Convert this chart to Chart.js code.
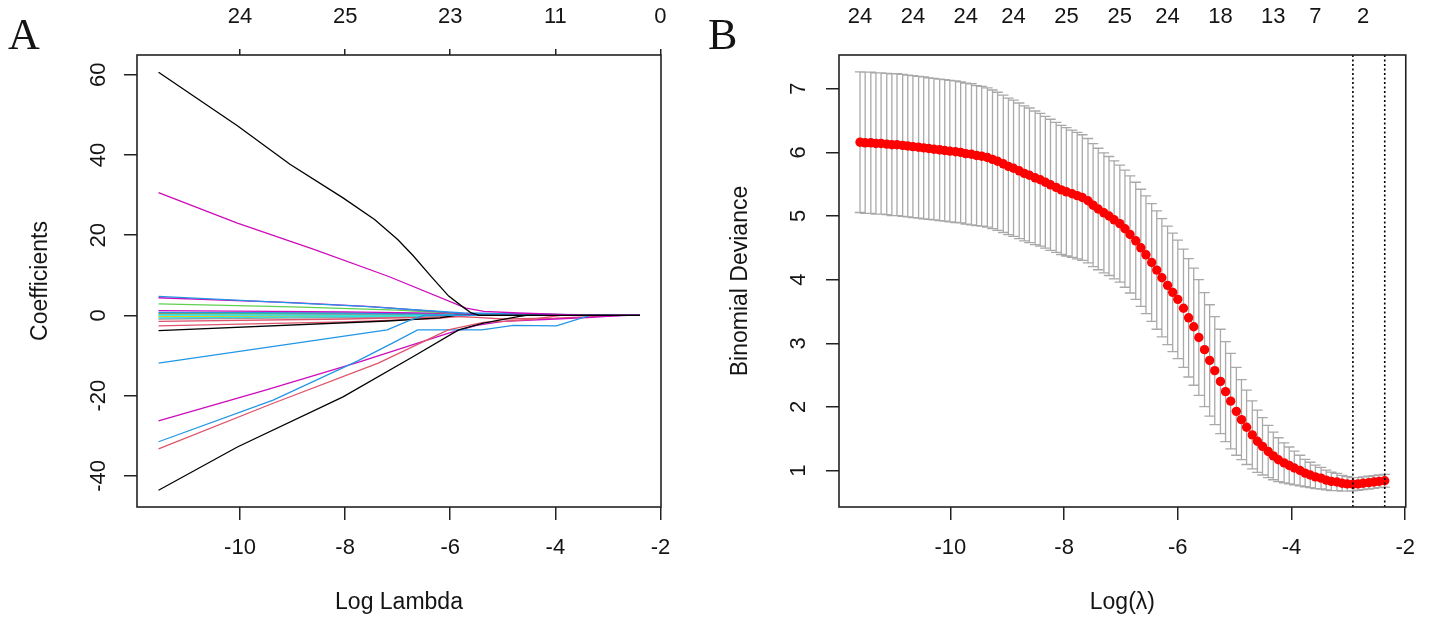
<!DOCTYPE html>
<html>
<head>
<meta charset="utf-8">
<script src="https://cdn.jsdelivr.net/npm/chart.js@4.4.1/dist/chart.umd.min.js"></script>
<style>
html,body{margin:0;padding:0;background:#fff;width:1430px;height:622px;overflow:hidden}
.panel{position:absolute;top:0}
</style>
</head>
<body>
<div class="panel" style="left:0;width:700px;height:622px"><canvas id="cA" width="700" height="622"></canvas></div>
<div class="panel" style="left:700px;width:730px;height:622px"><canvas id="cB" width="730" height="622"></canvas></div>
<script>
// ---------- Panel A: coefficient paths ----------
const coefXTicks = [-10, -8, -6, -4, -2];
const coefTopLabels = ['24', '25', '23', '11', '0'];
const coefYTicks = [-40, -20, 0, 20, 40, 60];

const path01 = [[-11.55,60.6],[-10.05,47.3],[-9.05,37.7],[-8.04,29.3],[-7.44,23.9],[-7.0,18.9],[-6.70,14.8],[-6.37,9.8],[-6.03,4.8],[-5.75,2.0],[-5.60,0.6],[-5.45,0],[-2.39,0]];
const path02 = [[-11.55,30.6],[-10.05,23.0],[-8.58,16.4],[-7.17,9.7],[-5.70,1.8],[-5.36,1.0],[-4.70,0.6],[-3.36,0],[-2.39,0]];
const path03 = [[-11.55,-43.6],[-10.05,-32.8],[-8.04,-20.3],[-6.71,-10.3],[-5.84,-3.6],[-5.37,-1.9],[-4.71,-0.3],[-4.55,0],[-2.39,0]];
const path04 = [[-11.55,-33.3],[-9.37,-21.9],[-7.37,-11.9],[-6.04,-3.6],[-5.37,-1.75],[-4.97,-1.5],[-4.4,-0.9],[-3.9,0],[-2.39,0]];
const path05 = [[-11.55,-31.5],[-9.37,-21.1],[-7.77,-11.4],[-7.10,-6.9],[-6.62,-3.6],[-5.40,-3.6],[-4.80,-2.5],[-3.98,-2.6],[-3.34,0],[-2.39,0]];
const path06 = [[-11.55,-26.3],[-9.5,-18.6],[-7.71,-11.5],[-6.03,-4.4],[-5.5,-2.5],[-5.0,-1.5],[-4.0,-0.9],[-3.3,-0.5],[-2.72,0],[-2.39,0]];
const path07 = [[-11.55,-11.9],[-7.2,-3.6],[-6.75,-1.1],[-6.5,0],[-2.39,0]];
const path08 = [[-11.55,-3.8],[-7.2,-1.4],[-6.2,-0.6],[-5.9,0],[-2.39,0]];
const path09 = [[-11.55,4.74],[-7.64,2.25],[-5.75,0.6],[-4.5,0.3],[-3.0,0.1],[-2.39,0]];
const path10 = [[-11.55,4.4],[-9.0,3.2],[-7.5,2.2],[-6.3,1.0],[-5.7,0.3],[-5.4,0],[-2.39,0]];
const path11 = [[-11.55,2.85],[-9.0,2.1],[-7.0,1.3],[-6.0,0.6],[-5.5,0],[-2.39,0]];
const path12 = [[-11.55,1.2],[-8.0,0.9],[-6.0,0.5],[-4.8,0.45],[-3.9,0.2],[-3.0,-0.2],[-2.6,0],[-2.39,0]];
const path13 = [[-11.55,0.75],[-8.0,0.6],[-6.0,0.3],[-5.2,0],[-2.39,0]];
const path14 = [[-11.55,0.1],[-8.0,0.05],[-6.0,0.0],[-2.39,0]];
const path15 = [[-11.55,-0.6],[-8.5,-0.35],[-6.5,-0.1],[-6.0,0],[-2.39,0]];
const path16 = [[-11.55,-1.5],[-8.0,-0.9],[-6.3,-0.4],[-5.6,0],[-2.39,0]];
const path17 = [[-11.55,-2.6],[-8.0,-1.6],[-6.3,-0.8],[-5.6,0],[-2.39,0]];
const path18 = [[-11.55,0.3],[-8.5,0.5],[-6.5,0.4],[-5.5,0.1],[-5.0,0],[-2.39,0]];
const path19 = [[-11.55,-0.3],[-7.5,-0.2],[-6.5,0],[-2.39,0]];
const path20 = [[-11.55,-0.9],[-7.0,-0.4],[-5.9,0],[-2.39,0]];
const path21 = [[-11.55,0.5],[-7.0,0.2],[-5.5,-0.5],[-5.0,-0.9],[-4.0,-0.7],[-3.3,-0.3],[-2.9,0],[-2.39,0]];
const path22 = [[-11.55,-0.2],[-9.0,-0.1],[-7.0,0.2],[-6.0,0.1],[-5.3,0],[-2.39,0]];
const pathColors = ['#000000','#CD0BBC','#000000','#DF536B','#2297E6','#CD0BBC','#2297E6','#000000',
  '#2297E6','#CD0BBC','#61D04F','#CD0BBC','#2297E6','#28E2E5','#28E2E5','#DF536B','#DF536B',
  '#61D04F','#F5C710','#9E9E9E','#DF536B','#28E2E5'];

// ---------- Panel B: cross-validation curve ----------
const logLambda = [
-11.59,-11.50,-11.40,-11.31,-11.22,-11.12,-11.03,-10.94,-10.84,-10.75,
-10.66,-10.56,-10.47,-10.38,-10.29,-10.19,-10.10,-10.01,-9.91,-9.82,
-9.73,-9.63,-9.54,-9.45,-9.35,-9.26,-9.17,-9.07,-8.98,-8.89,
-8.79,-8.70,-8.61,-8.51,-8.42,-8.33,-8.24,-8.14,-8.05,-7.96,
-7.86,-7.77,-7.68,-7.58,-7.49,-7.40,-7.30,-7.21,-7.12,-7.02,
-6.93,-6.84,-6.74,-6.65,-6.56,-6.46,-6.37,-6.28,-6.18,-6.09,
-6.00,-5.90,-5.81,-5.72,-5.63,-5.53,-5.44,-5.35,-5.25,-5.16,
-5.07,-4.97,-4.88,-4.79,-4.69,-4.60,-4.51,-4.41,-4.32,-4.23,
-4.13,-4.04,-3.95,-3.85,-3.76,-3.67,-3.58,-3.48,-3.39,-3.30,
-3.20,-3.11,-3.02,-2.92,-2.83,-2.74,-2.64,-2.55,-2.46,-2.36];
const cvMean = [
6.16,6.15,6.15,6.14,6.14,6.13,6.12,6.12,6.11,6.10,
6.09,6.08,6.07,6.06,6.05,6.04,6.03,6.02,6.01,6.00,
5.98,5.97,5.95,5.94,5.92,5.89,5.86,5.82,5.78,5.75,
5.71,5.67,5.64,5.60,5.57,5.53,5.49,5.45,5.41,5.38,
5.35,5.32,5.29,5.24,5.17,5.11,5.05,5.00,4.94,4.88,
4.80,4.71,4.61,4.50,4.39,4.27,4.15,4.03,3.91,3.80,
3.69,3.55,3.40,3.26,3.09,2.90,2.73,2.57,2.40,2.24,
2.09,1.93,1.80,1.68,1.56,1.46,1.38,1.30,1.23,1.17,
1.12,1.08,1.04,1.00,0.96,0.93,0.90,0.88,0.85,0.83,
0.82,0.80,0.79,0.785,0.79,0.80,0.81,0.82,0.83,0.84];
const cvSE = [
1.105,1.11,1.11,1.11,1.11,1.11,1.115,1.115,1.115,1.115,
1.115,1.115,1.115,1.112,1.112,1.112,1.112,1.112,1.112,1.108,
1.108,1.108,1.10,1.098,1.094,1.09,1.085,1.079,1.073,1.07,
1.066,1.062,1.057,1.05,1.043,1.036,1.03,1.022,1.015,1.009,
1.00,0.995,0.987,0.978,0.967,0.955,0.943,0.935,0.927,0.92,
0.92,0.92,0.92,0.92,0.925,0.925,0.93,0.93,0.93,0.93,
0.93,0.93,0.93,0.92,0.91,0.895,0.875,0.85,0.82,0.785,
0.75,0.69,0.63,0.585,0.535,0.49,0.45,0.41,0.375,0.345,
0.315,0.29,0.265,0.24,0.215,0.20,0.185,0.17,0.155,0.145,
0.135,0.125,0.115,0.105,0.10,0.10,0.10,0.10,0.10,0.10];
const cvTopAt = [-11.59, -10.66, -9.73, -8.89, -7.96, -7.02, -6.18, -5.25, -4.32, -3.58, -2.74];
const cvTopLabels = ['24','24','24','24','25','25','24','18','13','7','2'];
const cvXTicks = [-10, -8, -6, -4, -2];
const cvYTicks = [1, 2, 3, 4, 5, 6, 7];
const lambdaMinLog = -2.92;
const lambda1seLog = -2.36;

// ---------- shared styling ----------
const FONT = "'Liberation Sans', Arial, Helvetica, sans-serif";
const SERIF = "'Liberation Serif', 'Times New Roman', serif";
const INK = '#141414';
const X_MIN = -11.96, X_MAX = -1.99;
const A_YMIN = -47.77, A_YMAX = 64.92;
const B_YMIN = 0.427, B_YMAX = 7.53;

function fixedTicks(arr){ return s => { s.ticks = arr.map(v => ({value: v})); }; }

function boxAndYLabels(yTicks, labelX, yTitle, xTitle, letter){
  return {
    id: 'deco',
    afterDraw(chart){
      const {ctx, chartArea: a, scales} = chart;
      ctx.save();
      ctx.strokeStyle = '#222'; ctx.lineWidth = 1.6;
      ctx.strokeRect(a.left, a.top, a.right - a.left, a.bottom - a.top);
      ctx.fillStyle = INK;
      ctx.font = `22px ${FONT}`; ctx.textAlign = 'center'; ctx.textBaseline = 'middle';
      yTicks.forEach(v => {
        const py = scales.y.getPixelForValue(v);
        ctx.save(); ctx.translate(labelX, py); ctx.rotate(-Math.PI/2);
        ctx.fillText(String(v), 0, 0); ctx.restore();
      });
      ctx.font = `23px ${FONT}`;
      ctx.fillText(xTitle, (a.left + a.right)/2, 603);
      ctx.save(); ctx.translate(labelX - 58, (a.top + a.bottom)/2); ctx.rotate(-Math.PI/2);
      ctx.fillText(yTitle, 0, 0); ctx.restore();
      ctx.font = `44px ${SERIF}`; ctx.textAlign = 'left'; ctx.textBaseline = 'alphabetic';
      ctx.fillText(letter, 8, 49);
      ctx.restore();
    }
  };
}

const tickFont = {family: FONT, size: 22};

// ---------- Chart A ----------
const coefPaths = [path01,path02,path03,path04,path05,path06,path07,path08,path09,path10,path11,
  path12,path13,path14,path15,path16,path17,path18,path19,path20,path21,path22];

new Chart(document.getElementById('cA'), {
  type: 'scatter',
  data: {
    datasets: coefPaths.map((p, i) => ({
      data: p.map(([x, y]) => ({x, y})),
      showLine: true, borderColor: pathColors[i], borderWidth: 1.3,
      pointRadius: 0, tension: 0, fill: false
    }))
  },
  options: {
    responsive: false, animation: false,
    layout: {padding: {left: 0, right: 39, top: 0, bottom: 0}},
    plugins: {legend: {display: false}, tooltip: {enabled: false}},
    scales: {
      x: {
        type: 'linear', position: 'bottom', min: X_MIN, max: X_MAX,
        afterBuildTicks: fixedTicks(coefXTicks),
        afterFit: s => { s.height = 115; },
        ticks: {font: tickFont, color: INK, padding: 15, maxRotation: 0, autoSkip: false},
        grid: {drawOnChartArea: false, drawTicks: true, tickLength: 13, color: '#222', lineWidth: 1.5},
        border: {display: false}
      },
      xTop: {
        type: 'linear', position: 'top', min: X_MIN, max: X_MAX,
        afterBuildTicks: fixedTicks(coefXTicks),
        afterFit: s => { s.height = 55; },
        ticks: {font: tickFont, color: INK, padding: 19, maxRotation: 0, autoSkip: false,
          callback: v => coefTopLabels[coefXTicks.indexOf(v)]},
        grid: {drawOnChartArea: false, drawTicks: true, tickLength: 6, color: '#222', lineWidth: 1.5},
        border: {display: false}
      },
      y: {
        type: 'linear', position: 'left', min: A_YMIN, max: A_YMAX,
        afterBuildTicks: fixedTicks(coefYTicks),
        afterFit: s => { s.width = 137; },
        ticks: {display: false},
        grid: {drawOnChartArea: false, drawTicks: true, tickLength: 13, color: '#222', lineWidth: 1.5},
        border: {display: false}
      }
    }
  },
  plugins: [boxAndYLabels(coefYTicks, 99, 'Coefficients', 'Log Lambda', 'A')]
});

// ---------- Chart B ----------
const capHalf = 0.0923;
const barPts = [], capPts = [];
logLambda.forEach((x, i) => {
  const lo = cvMean[i] - cvSE[i], hi = cvMean[i] + cvSE[i];
  barPts.push({x, y: lo}, {x, y: hi}, {x, y: null});
  capPts.push({x: x - capHalf, y: hi}, {x: x + capHalf, y: hi}, {x, y: null},
              {x: x - capHalf, y: lo}, {x: x + capHalf, y: lo}, {x, y: null});
});

new Chart(document.getElementById('cB'), {
  type: 'scatter',
  data: {
    datasets: [
      {data: [{x: lambdaMinLog, y: B_YMIN}, {x: lambdaMinLog, y: B_YMAX}], showLine: true,
       borderColor: '#000', borderWidth: 1.6, borderDash: [2, 2.5], pointRadius: 0},
      {data: [{x: lambda1seLog, y: B_YMIN}, {x: lambda1seLog, y: B_YMAX}], showLine: true,
       borderColor: '#000', borderWidth: 1.6, borderDash: [2, 2.5], pointRadius: 0},
      {data: logLambda.map((x, i) => ({x, y: cvMean[i]})), showLine: false,
       pointRadius: 4.7, pointBackgroundColor: '#FF0000', pointBorderWidth: 0, pointBorderColor: '#FF0000'},
      {data: capPts, showLine: true, spanGaps: false, borderColor: '#A9A9A9', borderWidth: 1.3, pointRadius: 0},
      {data: barPts, showLine: true, spanGaps: false, borderColor: '#A9A9A9', borderWidth: 1.3, pointRadius: 0}
    ]
  },
  options: {
    responsive: false, animation: false,
    layout: {padding: {left: 0, right: 17, top: 0, bottom: 0}},
    plugins: {legend: {display: false}, tooltip: {enabled: false}},
    scales: {
      x: {
        type: 'linear', position: 'bottom', min: X_MIN, max: X_MAX,
        afterBuildTicks: fixedTicks(cvXTicks),
        afterFit: s => { s.height = 115; },
        ticks: {font: tickFont, color: INK, padding: 15, maxRotation: 0, autoSkip: false},
        grid: {drawOnChartArea: false, drawTicks: true, tickLength: 13, color: '#222', lineWidth: 1.5},
        border: {display: false}
      },
      xTop: {
        type: 'linear', position: 'top', min: X_MIN, max: X_MAX,
        afterBuildTicks: fixedTicks(cvTopAt),
        afterFit: s => { s.height = 55; },
        ticks: {font: tickFont, color: INK, padding: 25, maxRotation: 0, autoSkip: false,
          callback: v => cvTopLabels[cvTopAt.indexOf(v)]},
        grid: {display: false, drawOnChartArea: false, drawTicks: false},
        border: {display: false}
      },
      y: {
        type: 'linear', position: 'left', min: B_YMIN, max: B_YMAX,
        afterBuildTicks: fixedTicks(cvYTicks),
        afterFit: s => { s.width = 139; },
        ticks: {display: false},
        grid: {drawOnChartArea: false, drawTicks: true, tickLength: 13, color: '#222', lineWidth: 1.5},
        border: {display: false}
      }
    }
  },
  plugins: [boxAndYLabels(cvYTicks, 99, 'Binomial Deviance', 'Log(\u03bb)', 'B')]
});
</script>
</body>
</html>
